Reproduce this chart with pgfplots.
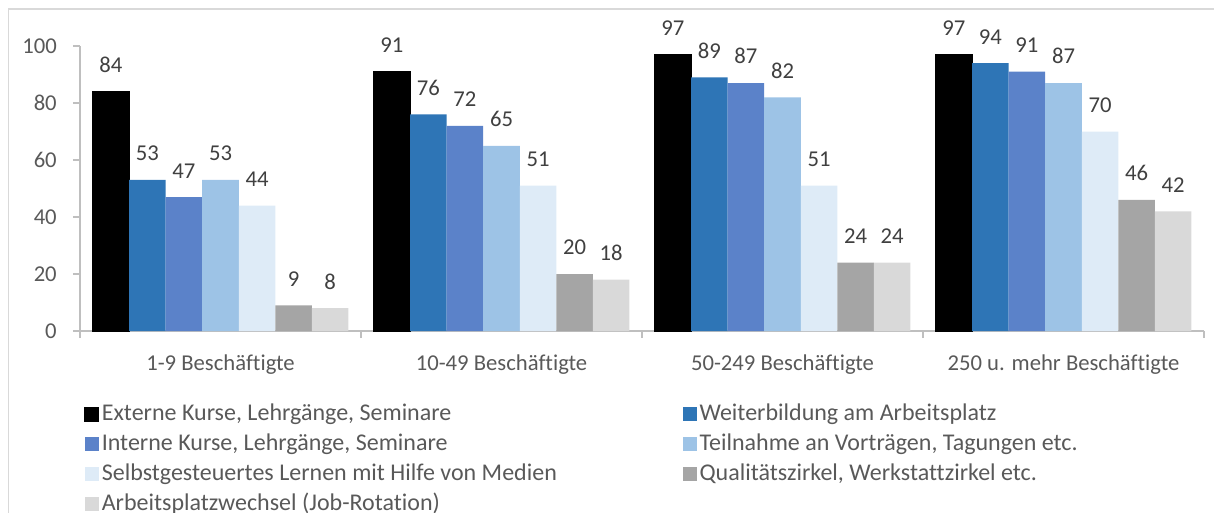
\documentclass[border=0pt]{standalone}
\usepackage{fontspec}
\setmainfont{Carlito}[Ligatures=NoCommon]
\usepackage{pgfplots}
\pgfplotsset{compat=1.18}

\definecolor{sExt}{HTML}{000000}
\definecolor{sWei}{HTML}{2E75B6}
\definecolor{sInt}{HTML}{5B82C9}
\definecolor{sTei}{HTML}{9DC3E6}
\definecolor{sSel}{HTML}{DEEBF7}
\definecolor{sQua}{HTML}{A5A5A5}
\definecolor{sArb}{HTML}{D9D9D9}
\definecolor{txtgrey}{HTML}{595959}
\definecolor{lblgrey}{HTML}{404040}
\definecolor{axgrey}{HTML}{BFBFBF}
\definecolor{framegrey}{HTML}{D9D9D9}

\newcommand{\chartfont}{\fontsize{17}{20}\selectfont}
\newcommand{\legfont}{\fontsize{18}{21}\selectfont}

\begin{document}
\begin{tikzpicture}[x=1pt,y=1pt]
% chart frame (1px = 0.75pt, origin at the axis corner)
\draw[framegrey, line width=0.9pt] (-53.6,-200) -- (-53.6,241.5) -- (900,241.5);

\begin{axis}[
    at={(0,0)}, anchor=south west,
    scale only axis,
    width=843pt, height=213.75pt,
    ybar=0pt, bar width=0.13,
    xmin=-0.5, xmax=3.5,
    ymin=0, ymax=100,
    clip=false,
    axis x line*=bottom, axis y line*=left,
    axis line style={draw=axgrey, line width=0.9pt, -},
    tick align=outside,
    major tick length=5.25pt, minor tick length=5.25pt,
    ytick={0,20,40,60,80,100},
    ytick style={draw=axgrey, line width=0.9pt},
    xtick={0,1,2,3},
    xticklabels={1-9 Beschäftigte, 10-49 Beschäftigte, 50-249 Beschäftigte, 250 u. mehr Beschäftigte},
    major x tick style={draw=none},
    minor xtick={-0.5,0.5,1.5,2.5,3.5},
    minor x tick style={draw=axgrey, line width=0.9pt},
    /pgf/number format/assume math mode=true,
    ticklabel style={font=\chartfont, text=txtgrey},
    xticklabel style={inner sep=0pt, yshift=-12pt},
    yticklabel style={inner sep=0pt, xshift=-12pt},
    nodes near coords,
    every node near coord/.append style={font=\chartfont, text=lblgrey, inner sep=0pt, yshift=14pt},
    legend image code/.code={\fill[#1] (0pt,-4.5pt) rectangle (10.5pt,6pt);},
    legend style={
        at={(0.0,-0.25)}, anchor=north west,
        draw=none, fill=none,
        font=\legfont, text=txtgrey,
        legend columns=2,
        row sep=7.4pt,
        nodes={inner xsep=2.25pt, inner ysep=0pt, text height=11.5pt, text depth=3.5pt},
        /tikz/every even column/.append style={column sep=92pt},
    },
    legend cell align=left,
]
\addplot[fill=sExt, draw=black] coordinates {(0,84) (1,91) (2,97) (3,97)};
\addplot[fill=sWei, draw=none] coordinates {(0,53) (1,76) (2,89) (3,94)};
\addplot[fill=sInt, draw=none] coordinates {(0,47) (1,72) (2,87) (3,91)};
\addplot[fill=sTei, draw=none] coordinates {(0,53) (1,65) (2,82) (3,87)};
\addplot[fill=sSel, draw=none] coordinates {(0,44) (1,51) (2,51) (3,70)};
\addplot[fill=sQua, draw=none] coordinates {(0,9) (1,20) (2,24) (3,46)};
\addplot[fill=sArb, draw=none] coordinates {(0,8) (1,18) (2,24) (3,42)};
\legend{{Externe Kurse, Lehrgänge, Seminare},
        {Weiterbildung am Arbeitsplatz},
        {Interne Kurse, Lehrgänge, Seminare},
        {Teilnahme an Vorträgen, Tagungen etc.},
        {Selbstgesteuertes Lernen mit Hilfe von Medien},
        {Qualitätszirkel, Werkstattzirkel etc.},
        {Arbeitsplatzwechsel (Job-Rotation)}}
\end{axis}
\pgfresetboundingbox
\useasboundingbox (-60,-135.75) rectangle (850.5,248.25);
\end{tikzpicture}
\end{document}
